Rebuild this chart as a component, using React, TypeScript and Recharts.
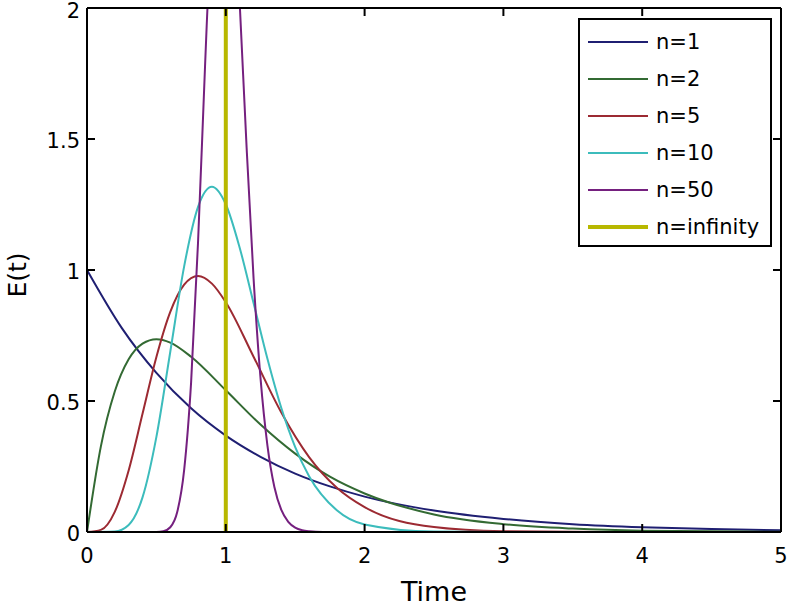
import React from "react";
import { LineChart, Line, XAxis, YAxis } from "recharts";

// E(t) for each tank count
const n1 = [
  { t: 0, e: 1.0 }, { t: 0.25, e: 0.779 }, { t: 0.5, e: 0.607 }, { t: 0.75, e: 0.472 },
  { t: 1, e: 0.368 }, { t: 1.25, e: 0.287 }, { t: 1.5, e: 0.223 }, { t: 1.75, e: 0.174 },
  { t: 2, e: 0.135 }, { t: 2.5, e: 0.082 }, { t: 3, e: 0.05 }, { t: 3.5, e: 0.03 },
  { t: 4, e: 0.018 }, { t: 4.5, e: 0.011 }, { t: 5, e: 0.007 },
];

const n2 = [
  { t: 0, e: 0 }, { t: 0.1, e: 0.327 }, { t: 0.2, e: 0.536 }, { t: 0.3, e: 0.659 },
  { t: 0.4, e: 0.719 }, { t: 0.5, e: 0.736 }, { t: 0.6, e: 0.723 }, { t: 0.75, e: 0.669 },
  { t: 1, e: 0.541 }, { t: 1.25, e: 0.41 }, { t: 1.5, e: 0.299 }, { t: 1.75, e: 0.211 },
  { t: 2, e: 0.147 }, { t: 2.5, e: 0.067 }, { t: 3, e: 0.03 }, { t: 3.5, e: 0.013 },
  { t: 4, e: 0.005 }, { t: 5, e: 0.001 },
];

const n5 = [
  { t: 0, e: 0 }, { t: 0.1, e: 0.008 }, { t: 0.2, e: 0.077 }, { t: 0.3, e: 0.235 },
  { t: 0.4, e: 0.451 }, { t: 0.5, e: 0.668 }, { t: 0.6, e: 0.84 }, { t: 0.7, e: 0.944 },
  { t: 0.8, e: 0.977 }, { t: 0.9, e: 0.948 }, { t: 1, e: 0.877 }, { t: 1.2, e: 0.669 },
  { t: 1.4, e: 0.456 }, { t: 1.6, e: 0.286 }, { t: 1.8, e: 0.169 }, { t: 2, e: 0.095 },
  { t: 2.5, e: 0.019 }, { t: 3, e: 0.003 }, { t: 3.5, e: 0.0005 }, { t: 4, e: 0 }, { t: 5, e: 0 },
];

const n10 = [
  { t: 0, e: 0 }, { t: 0.2, e: 0.002 }, { t: 0.3, e: 0.027 }, { t: 0.4, e: 0.132 },
  { t: 0.5, e: 0.363 }, { t: 0.6, e: 0.688 }, { t: 0.7, e: 1.014 }, { t: 0.8, e: 1.241 },
  { t: 0.9, e: 1.318 }, { t: 1, e: 1.251 }, { t: 1.1, e: 1.085 }, { t: 1.2, e: 0.874 },
  { t: 1.3, e: 0.661 }, { t: 1.4, e: 0.473 }, { t: 1.5, e: 0.324 }, { t: 1.6, e: 0.213 },
  { t: 1.8, e: 0.083 }, { t: 2, e: 0.029 }, { t: 2.5, e: 0.0015 }, { t: 3, e: 0 }, { t: 5, e: 0 },
];

const n50 = [
  { t: 0, e: 0 }, { t: 0.4, e: 0 }, { t: 0.5, e: 0.0004 }, { t: 0.55, e: 0.003 },
  { t: 0.6, e: 0.018 }, { t: 0.65, e: 0.076 }, { t: 0.7, e: 0.237 }, { t: 0.75, e: 0.571 },
  { t: 0.8, e: 1.106 }, { t: 0.85, e: 1.772 }, { t: 0.9, e: 2.39 }, { t: 0.95, e: 2.78 },
  { t: 1, e: 2.815 }, { t: 1.05, e: 2.52 }, { t: 1.1, e: 2.02 }, { t: 1.15, e: 1.467 },
  { t: 1.2, e: 0.969 }, { t: 1.25, e: 0.588 }, { t: 1.3, e: 0.33 }, { t: 1.35, e: 0.172 },
  { t: 1.4, e: 0.084 }, { t: 1.45, e: 0.039 }, { t: 1.5, e: 0.017 }, { t: 1.55, e: 0.007 },
  { t: 1.6, e: 0.003 }, { t: 1.7, e: 0.0003 }, { t: 2, e: 0 }, { t: 5, e: 0 },
];

const nInf = [
  { t: 1, e: 0 },
  { t: 1, e: 2.2 },
];

const xTicks = [0, 1, 2, 3, 4, 5];
const yTicks = [0, 0.5, 1, 1.5, 2];

const series = [
  { name: "n=1", data: n1, color: "#1f1f72", width: 2 },
  { name: "n=2", data: n2, color: "#336a33", width: 2 },
  { name: "n=5", data: n5, color: "#9c2a32", width: 2 },
  { name: "n=10", data: n10, color: "#3cbcbc", width: 2 },
  { name: "n=50", data: n50, color: "#75207f", width: 2 },
];
const infSeries = { name: "n=infinity", data: nInf, color: "#b8b800", width: 4 };

const FONT = "'DejaVu Sans', Verdana, sans-serif";

const XTick = (props: any) => {
  const { x, y, payload } = props;
  return (
    <text x={x} y={y} dy={15} textAnchor="middle" fontSize={21} fontFamily={FONT} fill="#000">
      {payload.value}
    </text>
  );
};

const YTick = (props: any) => {
  const { x, y, payload } = props;
  return (
    <text x={x} y={y} dy={9} textAnchor="end" fontSize={21} fontFamily={FONT} fill="#000">
      {payload.value}
    </text>
  );
};

const LegendBox = () => (
  <div
    style={{
      position: "absolute",
      left: 578,
      top: 18,
      width: 190,
      border: "2px solid #000",
      background: "#fff",
      padding: "3px 0 0 0",
      fontFamily: FONT,
      fontSize: 21,
      color: "#000",
    }}
  >
    {[...series, infSeries].map((s) => (
      <div key={s.name} style={{ display: "flex", alignItems: "center", height: 37 }}>
        <div style={{ marginLeft: 8, width: 60, height: s.width, background: s.color }} />
        <span style={{ marginLeft: 8 }}>{s.name}</span>
      </div>
    ))}
  </div>
);

const App: React.FC = () => {
  return (
    <div style={{ position: "absolute", left: 0, top: 0, width: 788, height: 608, background: "#fff" }}>
      <LineChart width={788} height={608} margin={{ top: 7, right: 6, left: 0, bottom: 0 }}>
        <XAxis
          xAxisId={0}
          type="number"
          dataKey="t"
          domain={[0, 5]}
          ticks={xTicks}
          allowDataOverflow
          height={76}
          stroke="#000"
          strokeWidth={2}
          tickSize={-8}
          tickMargin={24}
          tick={<XTick />}
          label={{
            content: (p: any) => (
              <text
                x={p.viewBox.x + p.viewBox.width / 2}
                y={601}
                textAnchor="middle"
                fontSize={27}
                fontFamily={FONT}
                fill="#000"
              >
                Time
              </text>
            ),
          }}
        />
        <XAxis
          xAxisId="top"
          orientation="top"
          type="number"
          dataKey="t"
          domain={[0, 5]}
          ticks={xTicks}
          allowDataOverflow
          height={1}
          stroke="#000"
          strokeWidth={2}
          tickSize={-8}
          tickFormatter={() => ""}
        />
        <YAxis
          yAxisId={0}
          type="number"
          domain={[0, 2]}
          ticks={yTicks}
          allowDataOverflow
          width={87}
          stroke="#000"
          strokeWidth={2}
          tickSize={-8}
          tickMargin={15}
          tick={<YTick />}
          label={{
            content: (p: any) => {
              const cy = p.viewBox.y + p.viewBox.height / 2 + 5;
              return (
                <text
                  x={17}
                  y={cy}
                  textAnchor="middle"
                  dominantBaseline="central"
                  transform={`rotate(-90, 17, ${cy})`}
                  fontSize={25}
                  fontFamily={FONT}
                  fill="#000"
                >
                  E(t)
                </text>
              );
            },
          }}
        />
        <YAxis
          yAxisId="right"
          orientation="right"
          type="number"
          domain={[0, 2]}
          ticks={yTicks}
          allowDataOverflow
          width={1}
          stroke="#000"
          strokeWidth={2}
          tickSize={-8}
          tickFormatter={() => ""}
        />
        {series.map((s) => (
          <Line
            key={s.name}
            data={s.data}
            dataKey="e"
            name={s.name}
            type="monotone"
            stroke={s.color}
            strokeWidth={s.width}
            dot={false}
            isAnimationActive={false}
          />
        ))}
        <Line
          data={infSeries.data}
          dataKey="e"
          name={infSeries.name}
          xAxisId="top"
          yAxisId="right"
          type="linear"
          stroke={infSeries.color}
          strokeWidth={infSeries.width}
          dot={false}
          isAnimationActive={false}
        />
      </LineChart>
      <LegendBox />
    </div>
  );
};

export default App;
